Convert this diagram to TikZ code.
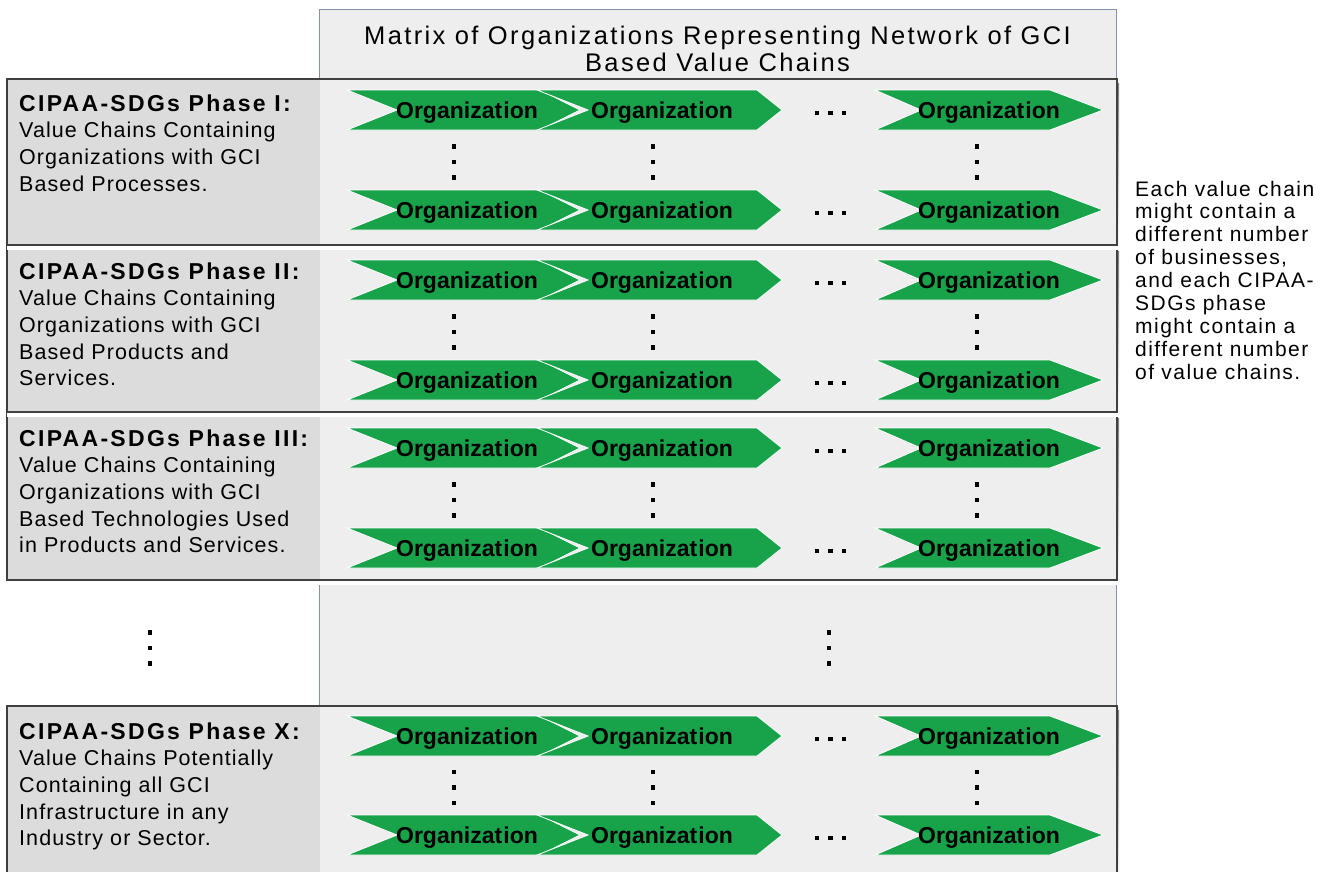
\documentclass[tikz,border=0pt]{standalone}
\usepackage{fontspec}
\setmainfont{Liberation Sans}
\newfontfamily\phasefont[LetterSpace=5]{Liberation Sans}
\newfontfamily\phasehead[LetterSpace=10]{Liberation Sans}
\newfontfamily\notefont[LetterSpace=7]{Liberation Sans}
\newfontfamily\headfont[LetterSpace=9.3]{Liberation Sans}

\definecolor{panel}{RGB}{238,238,238}
\definecolor{panelline}{RGB}{130,145,175}
\definecolor{phaseleft}{RGB}{220,220,220}
\definecolor{phaseline}{RGB}{64,64,64}
\definecolor{shade}{RGB}{200,200,200}
\definecolor{chevgreen}{RGB}{24,162,74}

\tikzset{
  chevron/.style={fill=chevgreen, draw=white, line width=0.8pt, line join=miter},
  orgtext/.style={anchor=base, inner sep=0pt, font=\bfseries\fontsize{23}{26}\selectfont},
  dot/.style={rectangle, fill=black, minimum size=4.8pt, inner sep=0pt},
  phasetext/.style={anchor=base west, inner sep=0pt, font=\phasefont\fontsize{21.5}{26.7}\selectfont},
  notetext/.style={anchor=base west, inner sep=0pt, font=\notefont\fontsize{21}{22.9}\selectfont},
  headtext/.style={anchor=base, inner sep=0pt, font=\headfont\fontsize{25.5}{26.5}\selectfont},
}

% phase band: top, bottom
\newcommand\phaseband[2]{%
  \fill[shade] (7,#1+4) rectangle (1119,#2+4);
  \fill[phaseleft] (7,#1) rectangle (320,#2);
  \fill[panel] (320,#1) rectangle (1117,#2);
  \draw[phaseline, line width=1.5pt] (7,#1) rectangle (1117,#2);
}
% chevron: name, left, notch, corner, tip, centre y, text x
\newcommand\chev[7]{%
  \path[chevron] (#2,{#6-20}) -- (#4,{#6-20}) -- (#5,{#6}) -- (#4,{#6+20}) -- (#2,{#6+20}) -- (#3,{#6}) -- cycle;
  \node[orgtext] (#1) at (#7,{#6+8.2}) {Organizat\kern1.2pt ion};
}
% three dots stacked vertically: name, x, centre y
\newcommand\stackdots[3]{%
  \node[dot] (#1a) at (#2,{#3-15.5}) {};
  \node[dot] (#1b) at (#2,{#3}) {};
  \node[dot] (#1c) at (#2,{#3+15.5}) {};
}
% three dots in a row: name, centre y
\newcommand\rowdots[2]{%
  \node[dot] (#1a) at (817,{#2}) {};
  \node[dot] (#1b) at (830.5,{#2}) {};
  \node[dot] (#1c) at (844,{#2}) {};
}
% one value chain: prefix, centre y
\newcommand\chainrow[2]{%
  \chev{#1a}{347}{397}{540}{580}{#2}{467}
  \chev{#1b}{537}{588}{757}{782}{#2}{662}
  \rowdots{#1h}{#2+3}
  \chev{#1c}{875}{921}{1050}{1103}{#2}{989}
}
% one phase: prefix, first row y, second row y
\newcommand\phasechains[3]{%
  \chainrow{#1r}{#2}
  \chainrow{#1s}{#3}
  \stackdots{#1u}{454}{#2/2+#3/2+2}
  \stackdots{#1v}{653}{#2/2+#3/2+2}
  \stackdots{#1w}{977}{#2/2+#3/2+2}
}

\begin{document}
\begin{tikzpicture}[x=1pt, y=-1pt]
  \useasboundingbox (0,0) rectangle (1331,871);

  % matrix panel
  \path[fill=panel, draw=panelline, line width=1pt] (319,9) rectangle (1116,890);
  \node[headtext] (title) at (717.5,44.5) {\vtop{%
      \hbox to 800pt{\hfil Matrix of Organizations Representing Network of GCI\hfil}%
      \hbox to 800pt{\hfil Based Value Chains\hfil}}};

  % phase bands
  \phaseband{706}{890}
  \phaseband{414}{580}
  \phaseband{247}{412}
  \phaseband{79}{245}

  % value chains
  \phasechains{pa}{110}{210}
  \phasechains{pb}{280}{380}
  \phasechains{pc}{448}{548}
  \phasechains{px}{736}{835}

  % omitted phases
  \stackdots{gl}{150}{648}
  \stackdots{gm}{829}{648}

  % phase labels
  \node[phasetext] (pat) at (19,111) {\vtop{%
      \hbox{\phasehead\bfseries\fontsize{23}{26.7}\selectfont CIPAA-SDGs Phase I:}
      \hbox{Value Chains Containing}
      \hbox{Organizations with GCI}
      \hbox{Based Processes.}}};
  \node[phasetext] (pbt) at (19,279) {\vtop{%
      \hbox{\phasehead\bfseries\fontsize{23}{26.7}\selectfont CIPAA-SDGs Phase II:}
      \hbox{Value Chains Containing}
      \hbox{Organizations with GCI}
      \hbox{Based Products and}
      \hbox{Services.}}};
  \node[phasetext] (pct) at (19,446) {\vtop{%
      \hbox{\phasehead\bfseries\fontsize{23}{26.7}\selectfont CIPAA-SDGs Phase III:}
      \hbox{Value Chains Containing}
      \hbox{Organizations with GCI}
      \hbox{Based Technologies Used}
      \hbox{in Products and Services.}}};
  \node[phasetext] (pxt) at (19,739) {\vtop{%
      \hbox{\phasehead\bfseries\fontsize{23}{26.7}\selectfont CIPAA-SDGs Phase X:}
      \hbox{Value Chains Potentially}
      \hbox{Containing all GCI}
      \hbox{Infrastructure in any}
      \hbox{Industry or Sector.}}};

  % side note
  \node[notetext] (note) at (1135,196) {\vtop{%
      \hbox{Each value chain}
      \hbox{might contain a}
      \hbox{different number}
      \hbox{of businesses,}
      \hbox{and each CIPAA-}
      \hbox{SDGs phase}
      \hbox{might contain a}
      \hbox{different number}
      \hbox{of value chains.}}};
\end{tikzpicture}
\end{document}
